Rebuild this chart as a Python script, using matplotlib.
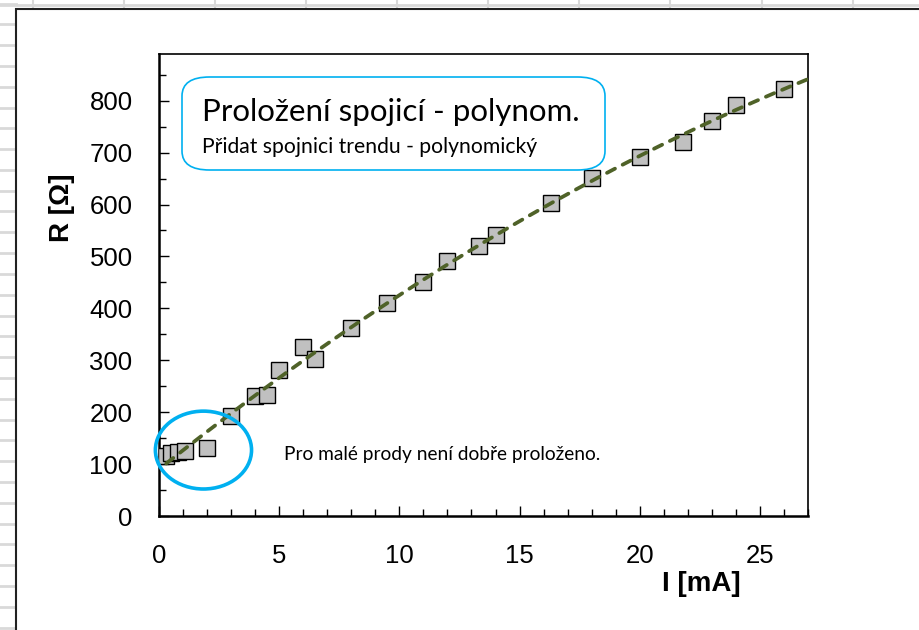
import numpy as np
import matplotlib.pyplot as plt
from matplotlib.patches import Ellipse, FancyBboxPatch, Rectangle
from matplotlib.lines import Line2D
from matplotlib.ticker import MultipleLocator

# naměřené hodnoty
proud_mA = [0.3, 0.5, 0.8, 1.1, 2.0, 3.0, 4.0, 4.5, 5.0, 6.0, 6.5, 8.0,
            9.5, 11.0, 12.0, 13.3, 14.0, 16.3, 18.0, 20.0, 21.8, 23.0, 24.0, 26.0]
odpor_ohm = [115, 121, 123, 125, 131, 192, 231, 234, 282, 325, 302, 363,
             411, 451, 491, 521, 541, 603, 652, 691, 721, 761, 791, 822]

x_ticks = [0, 5, 10, 15, 20, 25]
y_ticks = [0, 100, 200, 300, 400, 500, 600, 700, 800]

titulek = "Proložení spojicí - polynom."
podtitulek = "Přidat spojnici trendu - polynomický"
poznamka = "Pro malé prody není dobře proloženo."

x = np.array(proud_mA)
y = np.array(odpor_ohm)

# polynomicka spojnice trendu (2. stupen), protazena dopredu do 27 mA
koef = np.polyfit(x, y, 2)
xt = np.linspace(x.min(), 27, 300)
yt = np.polyval(koef, xt)

fig = plt.figure(figsize=(9.19, 6.3), dpi=100)
W, H = 919, 630

# pozadi tabulky (mrizka bunek)
seda = '#d9d9d9'
for cx in [33, 124, 215, 306, 397, 488, 579, 670, 762, 853]:
    fig.add_artist(Line2D([cx / W, cx / W], [1, 1 - 9 / H], color=seda, lw=1.5, zorder=-3))
fig.add_artist(Line2D([0, 1], [1 - 4.5 / H, 1 - 4.5 / H], color=seda, lw=2, zorder=-3))
for ry in np.arange(3.5, 630, 20.8):
    fig.add_artist(Line2D([0, 16 / W], [1 - ry / H, 1 - ry / H], color=seda, lw=2, zorder=-3))
fig.add_artist(Rectangle((16 / W, -0.1), 1.2, 1 - 9 / H + 0.1, transform=fig.transFigure,
                         facecolor='white', edgecolor='#222222', lw=1.5, zorder=-2))

ax = fig.add_axes([159 / W, 1 - 516 / H, (808 - 159) / W, (516 - 54) / H])
ax.set_zorder(1)
ax.plot(x, y, 's', ms=11.3, mfc='#c0c0c0', mec='black', mew=1.0, zorder=3)
ax.plot(xt, yt, color='#4f6228', lw=2.7, dashes=(2.4, 2.3),
        dash_capstyle='round', zorder=4)

ax.set_xlim(0, 27)
ax.set_ylim(0, 890)
ax.set_xticks(x_ticks)
ax.set_yticks(y_ticks)
ax.xaxis.set_minor_locator(MultipleLocator(1))
ax.yaxis.set_minor_locator(MultipleLocator(50))
ax.tick_params(which='both', direction='in', top=False, right=False, width=1)
ax.tick_params(which='major', length=7)
ax.tick_params(which='minor', length=5)
ax.tick_params(axis='y', which='major', pad=19, labelsize=18.5)
ax.tick_params(axis='x', which='major', pad=20, labelsize=18.5)
for lab in ax.get_xticklabels() + ax.get_yticklabels():
    lab.set_family(['Liberation Sans', 'DejaVu Sans'])
for s in ['left', 'bottom']:
    ax.spines[s].set_linewidth(1.8)
for s in ['top', 'right']:
    ax.spines[s].set_linewidth(1.2)

fig.text(62 / W, 1 - 208 / H, "R [Ω]", rotation=90, ha='center', va='center',
         fontsize=20, fontweight='bold', family=['Liberation Sans', 'DejaVu Sans'])
fig.text(701 / W, 1 - 584 / H, "I [mA]", ha='center', va='center',
         fontsize=20, fontweight='bold', family=['Liberation Sans', 'DejaVu Sans'])

# popisek s ramečkem
box = FancyBboxPatch((182 / W, 1 - 170 / H), (605 - 182) / W, (170 - 77) / H,
                     boxstyle='round,pad=0,rounding_size=0.03',
                     transform=fig.transFigure, facecolor='white',
                     edgecolor='#00b0f0', lw=1.2, zorder=5)
fig.add_artist(box)
fig.text(202 / W, 1 - 112 / H, titulek, ha='left', va='center', fontsize=22.5,
         family=['Lato', 'DejaVu Sans'], zorder=6)
fig.text(202 / W, 1 - 147 / H, podtitulek, ha='left', va='center', fontsize=15.2,
         family=['Lato', 'DejaVu Sans'], zorder=6)

# elipsa kolem malych proudu
el = Ellipse((1.85, 127), 4.0, 150, facecolor='none', edgecolor='#00b0f0',
             lw=2.6, clip_on=False, zorder=5)
ax.add_patch(el)
ax.text(5.2, 119, poznamka, ha='left', va='center', fontsize=13.8,
        family=['Lato', 'DejaVu Sans'])

fig.savefig('out.png', dpi=100)
